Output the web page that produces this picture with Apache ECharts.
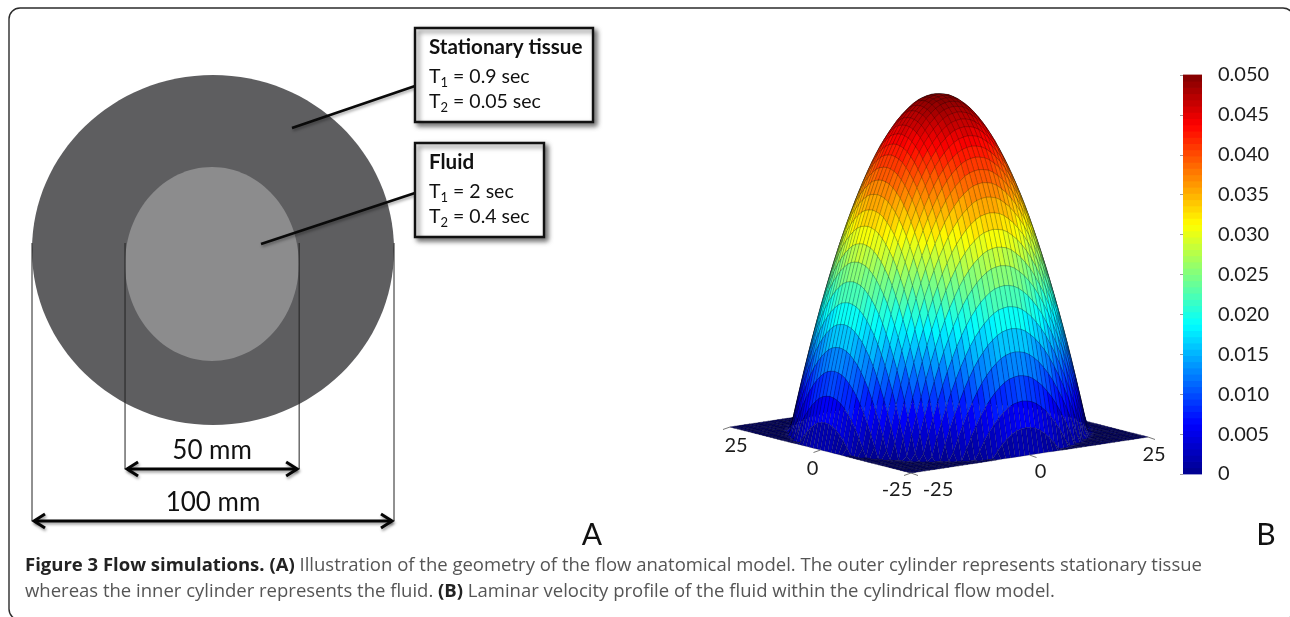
<!DOCTYPE html>
<html><head><meta charset="utf-8">
<style>html,body{margin:0;padding:0;background:#fff}#c{width:1290px;height:617px}</style>
<script src="https://cdn.jsdelivr.net/npm/echarts@6/dist/echarts.min.js"></script>
</head><body><div id="c"></div>
<script>
// ---------- data ----------
const ringNames = ['Stationary tissue', 'Fluid'];
const ringCenterXmm = [0, -0.3];
const ringCenterYmm = [0, -4];
const ringRadiusXmm = [50, 24];
const ringRadiusYmm = [50, 27.7];
const ringT1 = ['0.9 sec', '2 sec'];
const ringT2 = ['0.05 sec', '0.4 sec'];
const dimLabels = ['100 mm', '50 mm'];
const dimFromMm = [-50, -24.3];
const dimToMm = [50, 23.8];
// velocity along a centre line of the tube, one value per mm from r = 0 to r = 25
const centerlineVelocity = [0.0500,0.0499,0.0497,0.0493,0.0487,0.0480,0.0471,0.0461,0.0449,0.0435,
  0.0420,0.0403,0.0385,0.0365,0.0343,0.0320,0.0295,0.0269,0.0241,0.0211,0.0180,0.0147,0.0113,0.0077,0.0039,0];
const surfaceTicks = [-25, 0, 25];
const jetStops = [0,0.125,0.375,0.625,0.875,1];
const jetColors = [[0,0,140],[0,0,255],[0,255,255],[255,255,0],[255,0,0],[128,0,0]];
const VMAX = 0.05;

// ---------- helpers ----------
function jet(v){
  const lvl = Math.min(63, Math.floor(v / VMAX * 64));
  const t = (lvl + 0.5) / 64;
  let k = 0; while (k < jetStops.length - 2 && t > jetStops[k + 1]) k++;
  const f = (t - jetStops[k]) / (jetStops[k + 1] - jetStops[k]);
  const c = jetColors[k].map((a, n) => Math.round(a + (jetColors[k + 1][n] - a) * f));
  return 'rgb(' + c.join(',') + ')';
}
function velocity(i, j){
  const a = centerlineVelocity[Math.abs(i)] , b = centerlineVelocity[Math.abs(j)];
  return Math.max(0, a + b - centerlineVelocity[0]);
}
// oblique view of the (x, y, velocity) surface on the hidden plot axes
const view = {ox: 939, oy: 432, xx: 4.74, xy: -0.72, yx: -3.62, yy: -0.92, zy: 338 / VMAX};
function project(x, y, v){
  return [view.ox + x * view.xx + y * view.yx, view.oy + x * view.xy + y * view.yy - v * view.zy];
}
const cells = [];
for (let s = 48; s >= -50; s--) {
  for (let i = -25; i < 25; i++) { const j = s - i; if (j >= -25 && j < 25) cells.push([i, j]); }
}
const levels = []; for (let n = 0; n < 64; n++) levels.push(n);
const rings = ringNames.map((n, k) => [ringCenterXmm[k], ringCenterYmm[k], ringRadiusXmm[k], ringRadiusYmm[k]]);

const chart = echarts.init(document.getElementById('c'), null, {renderer: 'canvas'});
const hiddenAxis = {show: false, type: 'value'};
const FONT = 'Lato';
const CAP = '"Open Sans"';

function box(x, y, w, h, k){
  const sub = {fontFamily: FONT, fontSize: 13, fill: '#111', verticalAlign: 'bottom', padding:[12,0,0,0]};
  const n = {fontFamily: FONT, fontSize: 19.5, fill: '#111'};
  return [
    {type:'rect', z:11, shape:{x,y,width:w,height:h}, style:{fill:'#fff',stroke:'#111',lineWidth:2.4,shadowBlur:5,shadowOffsetX:3,shadowOffsetY:3,shadowColor:'rgba(0,0,0,0.55)'}},
    {type:'text', z:12, x:x+14, y:y+9, style:{fontFamily:FONT, text:ringNames[k], fontSize:20.6, fontWeight:'bold', fill:'#111'}},
    {type:'text', z:12, x:x+14, y:y+36, style:{text:'{n|T}{s|1}{n| = '+ringT1[k]+'}', rich:{n,s:sub}}},
    {type:'text', z:12, x:x+14, y:y+61, style:{text:'{n|T}{s|2}{n| = '+ringT2[k]+'}', rich:{n,s:sub}}}
  ];
}
function leader(a, b, c, d){
  return {type:'line', z:10, shape:{x1:a,y1:b,x2:c,y2:d}, style:{stroke:'#0a0a0a',lineWidth:2.6,shadowBlur:3,shadowOffsetX:1,shadowOffsetY:2,shadowColor:'rgba(0,0,0,0.35)'}};
}

chart.setOption({
  animation: false,
  backgroundColor: '#fff',
  grid: [
    {left: 32, top: 75, width: 362, height: 350},
    {left: 0, top: 0, width: 1290, height: 617},
    {left: 1183, top: 75, width: 19, height: 399}
  ],
  xAxis: [
    Object.assign({gridIndex:0, min:-50, max:50}, hiddenAxis),
    Object.assign({gridIndex:1, min:0, max:1290}, hiddenAxis),
    Object.assign({gridIndex:2, min:0, max:1}, hiddenAxis)
  ],
  yAxis: [
    Object.assign({gridIndex:0, min:-50, max:50}, hiddenAxis),
    Object.assign({gridIndex:1, min:0, max:617, inverse:true}, hiddenAxis),
    {gridIndex:2, type:'value', min:0, max:VMAX, interval:0.005, position:'right', z:5,
     axisLine:{show:false}, splitLine:{show:false},
     axisTick:{show:true, inside:true, length:3, lineStyle:{color:'rgba(60,60,60,0.5)'}},
     axisLabel:{margin:16, color:'#1c1c1c', fontFamily:FONT, fontSize:20,
       formatter: v => v === 0 ? '0' : v.toFixed(3)}}
  ],
  series: [
    {type:'custom', xAxisIndex:0, yAxisIndex:0, clip:false, data:rings, z:2,
     renderItem(p, api){
       const c = api.coord([api.value(0), api.value(1)]);
       const s = api.size([api.value(2), api.value(3)]);
       return {type:'ellipse', shape:{cx:c[0], cy:c[1], rx:s[0], ry:s[1]},
         style:{fill: p.dataIndex === 0 ? '#5e5e60' : '#8c8c8d'}};
     }},
    {type:'custom', xAxisIndex:0, yAxisIndex:0, clip:false, z:3,
     data: dimLabels.map((l,k)=>[dimFromMm[k], dimToMm[k], k===0?-77.4:-62.6, l]),
     dimensions:['from','to','y',{name:'label',type:'ordinal'}],
     renderItem(p, api){
       const yv = api.value(2);
       const a = api.coord([api.value(0), yv]), b = api.coord([api.value(1), yv]);
       const top = api.coord([0, 2])[1];
       const arrow = {stroke:'#050505', lineWidth:3, fill:null, shadowBlur:3, shadowOffsetX:1, shadowOffsetY:2, shadowColor:'rgba(0,0,0,0.4)'};
       const thin = {stroke:'#222', lineWidth:1};
       return {type:'group', children:[
         {type:'line', shape:{x1:a[0],y1:top,x2:a[0],y2:a[1]}, style:thin},
         {type:'line', shape:{x1:b[0],y1:top,x2:b[0],y2:b[1]}, style:thin},
         {type:'line', shape:{x1:a[0]+2,y1:a[1],x2:b[0]-2,y2:b[1]}, style:arrow},
         {type:'polyline', shape:{points:[[a[0]+13,a[1]-7],[a[0]+2,a[1]],[a[0]+13,a[1]+7]]}, style:arrow},
         {type:'polyline', shape:{points:[[b[0]-13,b[1]-7],[b[0]-2,b[1]],[b[0]-13,b[1]+7]]}, style:arrow},
         {type:'text', x:(a[0]+b[0])/2, y:a[1]-18, style:{text:dimLabels[p.dataIndex], fontFamily:FONT, fontSize:26, fill:'#111', align:'center', verticalAlign:'middle'}}
       ]};
     }},
    {type:'custom', xAxisIndex:1, yAxisIndex:1, clip:false, progressive:0, z:2, data:cells,
     renderItem(p, api){
       const i = api.value(0), j = api.value(1);
       const vs = [velocity(i,j), velocity(i+1,j), velocity(i+1,j+1), velocity(i,j+1)];
       const pts = [project(i,j,vs[0]), project(i+1,j,vs[1]), project(i+1,j+1,vs[2]), project(i,j+1,vs[3])];
       const mean = (vs[0]+vs[1]+vs[2]+vs[3])/4;
       const flat = mean === 0;
       return {type:'polygon', shape:{points:pts.map(q=>api.coord(q))},
         style:{fill:flat ? '#000070' : jet(mean), stroke: flat ? 'rgba(0,0,40,0.6)' : 'rgba(0,0,0,0.27)', lineWidth:0.7}};
     }},
    {type:'custom', xAxisIndex:1, yAxisIndex:1, clip:false, z:3,
     data: surfaceTicks.map(t=>[t]),
     renderItem(p, api){
       const t = api.value(0);
       const items = [];
       const mark = (q, dx, dy) => items.push({type:'line', shape:{x1:q[0],y1:q[1],x2:q[0]+dx,y2:q[1]+dy}, style:{stroke:'#777',lineWidth:1}});
       const lab = (x,y,s) => items.push({type:'text', x, y, style:{text:s, fontFamily:FONT, fontSize:20, fill:'#1c1c1c', align:'center', verticalAlign:'middle'}});
       const a = api.coord(project(t,-25,0)), b = api.coord(project(-25,t,0));
       mark(a, 7, 2.5); mark(b, -7, 2.5);
       if (t === -25) { lab(a[0]+27, a[1]+17, '-25'); lab(b[0]-14, b[1]+17, '-25'); }
       if (t === 0)   { lab(a[0]+11, a[1]+17, '0');   lab(b[0]-8, b[1]+19, '0'); }
       if (t === 25)  { lab(a[0]+6, a[1]+18, '25');   lab(b[0]+6, b[1]+19, '25'); }
       return {type:'group', children:items};
     }},
    {type:'custom', xAxisIndex:2, yAxisIndex:2, clip:false, z:2, data:levels,
     renderItem(p, api){
       const n = api.value(0);
       const lo = api.coord([0, n/64*VMAX]), hi = api.coord([1, (n+1)/64*VMAX]);
       return {type:'rect', shape:{x:lo[0], y:hi[1]-0.4, width:hi[0]-lo[0], height:lo[1]-hi[1]+0.8},
         style:{fill:jet((n+0.5)/64*VMAX)}};
     }}
  ],
  graphic: {elements: [
    {type:'rect', z:1, silent:true, shape:{x:9,y:8,width:1285,height:612,r:11}, style:{fill:'transparent',stroke:'#2b2b2b',lineWidth:1.4}},
    leader(292,128,415,86),
    leader(261,244,415,193)
  ].concat(box(415,28,178,94,0), box(415,143,129,94,1), [
    {type:'text', z:12, x:592, y:535, style:{text:'A', fontFamily:FONT, fontSize:30, fill:'#111', align:'center', verticalAlign:'middle'}},
    {type:'text', z:12, x:1266, y:535, style:{text:'B', fontFamily:FONT, fontSize:30, fill:'#111', align:'center', verticalAlign:'middle'}},
    {type:'text', z:12, x:25, y:556, style:{
      text:'{b|Figure 3 Flow simulations. (A)}{n| Illustration of the geometry of the flow anatomical model. The outer cylinder represents stationary tissue}',
      rich:{b:{fontFamily:CAP,fontWeight:'bold',fontSize:18.5,fill:'#222'},n:{fontFamily:CAP,fontSize:18.5,fill:'#555'}}}},
    {type:'text', z:12, x:25, y:582, style:{
      text:'{n|whereas the inner cylinder represents the fluid. }{b|(B)}{n| Laminar velocity profile of the fluid within the cylindrical flow model.}',
      rich:{b:{fontFamily:CAP,fontWeight:'bold',fontSize:18.5,fill:'#222'},n:{fontFamily:CAP,fontSize:18.5,fill:'#555'}}}}
  ])}
});
</script></body></html>
